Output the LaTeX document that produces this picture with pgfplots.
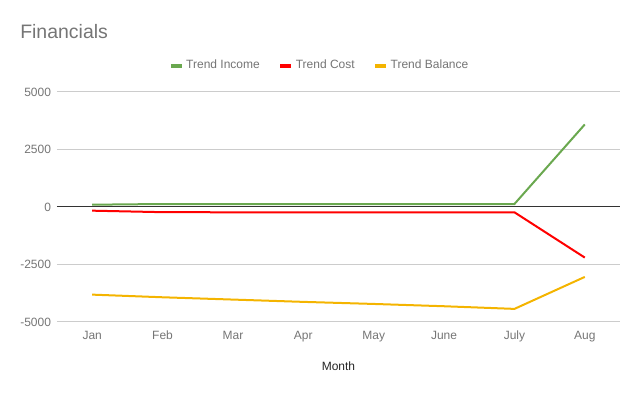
\documentclass[border=0pt]{standalone}
\usepackage{pgfplots}
\pgfplotsset{compat=1.18}
\usepackage{fontspec}
\setmainfont{Liberation Sans}
\definecolor{cinc}{HTML}{6AA84F}
\definecolor{ccost}{HTML}{FF0000}
\definecolor{cbal}{HTML}{F4B400}
\definecolor{tgray}{HTML}{757575}
\definecolor{ggray}{HTML}{CCCCCC}
\begin{document}
\begin{tikzpicture}
\path[use as bounding box] (0,0) rectangle (480pt,297pt);
\node[anchor=west, text=tgray, font=\fontsize{14.6pt}{16pt}\selectfont, inner sep=0pt] at (15pt,273pt) {Financials};
\begin{axis}[
  at={(42.75pt,55.5pt)}, anchor=south west,
  scale only axis, width=422.25pt, height=172.5pt,
  xmin=-0.5, xmax=7.5, ymin=-5000, ymax=5000,
  xtick={0,...,7},
  xticklabels={Jan,Feb,Mar,Apr,May,June,July,Aug},
  ytick={-5000,-2500,0,2500,5000},
  yticklabels={-5000,-2500,0,2500,5000},
  axis line style={draw=none},
  major tick length=0pt,
  ymajorgrids, grid style={ggray, line width=0.75pt},
  tick label style={text=tgray, font=\fontsize{9pt}{10pt}\selectfont},
  yticklabel style={xshift=-1pt},
  xticklabel style={yshift=-3pt, text height=6.5pt, text depth=2pt, anchor=north},
  xlabel={Month}, xlabel style={font=\fontsize{9pt}{10pt}\selectfont, text=black!85, yshift=-8pt},
  legend columns=3,
  legend style={draw=none, at={(0.467,1.115)}, anchor=center, font=\fontsize{9pt}{10pt}\selectfont, text=tgray,
    /tikz/every even column/.append style={column sep=12pt}},
  legend image code/.code={\draw[#1, line width=3pt] (0pt,0pt) -- (8pt,0pt);},
  clip=false,
]
\draw[black!80, line width=0.75pt] (axis cs:-0.5,0) -- (axis cs:7.5,0);
\addplot[cinc, line width=1.5pt] coordinates {(0,100) (1,130) (2,130) (3,130) (4,130) (5,130) (6,130) (7,3590)};
\addlegendentry{Trend Income}
\addplot[ccost, line width=1.5pt] coordinates {(0,-160) (1,-225) (2,-230) (3,-230) (4,-230) (5,-230) (6,-230) (7,-2200)};
\addlegendentry{Trend Cost}
\addplot[cbal, line width=1.5pt] coordinates {(0,-3810) (1,-3925) (2,-4025) (3,-4125) (4,-4215) (5,-4315) (6,-4430) (7,-3040)};
\addlegendentry{Trend Balance}
\end{axis}
\end{tikzpicture}
\end{document}
